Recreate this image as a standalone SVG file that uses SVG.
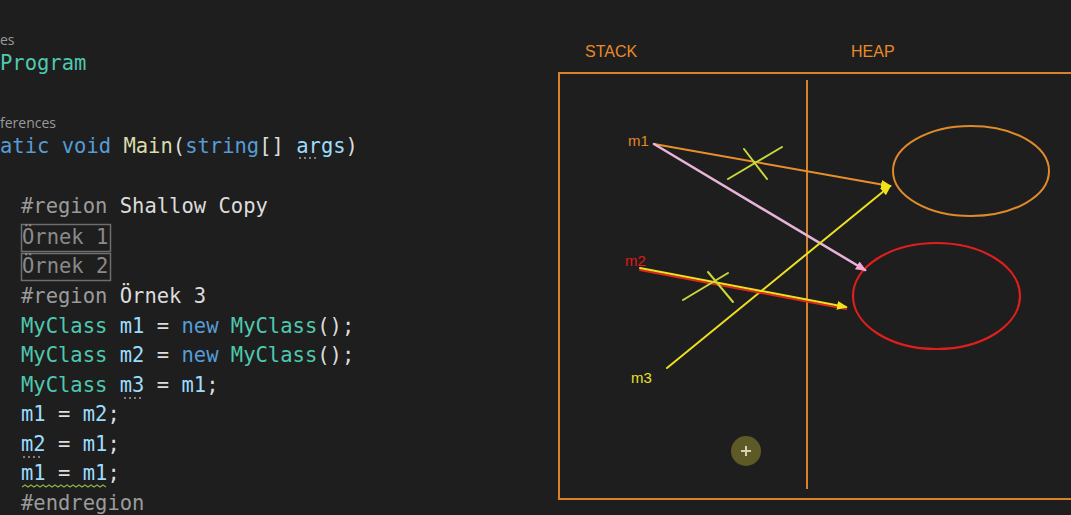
<svg xmlns="http://www.w3.org/2000/svg" width="1071" height="515" viewBox="0 0 1071 515">
<style>
.code{font-family:"DejaVu Sans Mono","Liberation Mono",monospace;font-size:20.5px}
.ui{font-family:"Open Sans","Liberation Sans",sans-serif;font-size:14px;fill:#9a9a9a}
.t{fill:#4ec9b0}.k{fill:#569cd6}.v{fill:#9cdcfe}.w{fill:#dcdcdc}.y{fill:#dcdcaa}.g{fill:#9b9b9b}.gb{fill:#8a8a8a}
.lbl{font-family:"Liberation Sans",Arial,sans-serif;font-size:16px;fill:#e8892b}
.var{font-family:"Liberation Sans",Arial,sans-serif;font-size:15px}
.frame{fill:none;stroke:#d9822b;stroke-width:2}
.dots{stroke:#a0a0a0;stroke-width:1.5;stroke-dasharray:2 3}
</style>
<defs>
<marker id="ahY" markerWidth="12" markerHeight="12" refX="9" refY="6" orient="auto" markerUnits="userSpaceOnUse"><path d="M0,1.5 L11,6 L0,10.5 Z" fill="#f2e21a"/></marker>
<marker id="ahP" markerWidth="12" markerHeight="12" refX="9" refY="6" orient="auto" markerUnits="userSpaceOnUse"><path d="M0,1.5 L11,6 L0,10.5 Z" fill="#f5a8d8"/></marker>
</defs>
<rect width="1071" height="515" fill="#1e1e1e"/>

<g id="code">
<text class="ui" x="0" y="45">es</text>
<text class="code t" x="0" y="70">Program</text>
<text class="ui" x="0" y="128">ferences</text>
<text class="code" x="0" y="153" xml:space="preserve"><tspan class="k">atic void </tspan><tspan class="y">Main</tspan><tspan class="w">(</tspan><tspan class="k">string</tspan><tspan class="w">[] </tspan><tspan class="v">args</tspan><tspan class="w">)</tspan></text>
<line class="dots" x1="299" y1="158" x2="316" y2="158"/>
<text class="code" x="21" y="213" xml:space="preserve"><tspan class="g">#region </tspan><tspan class="w">Shallow Copy</tspan></text>
<rect x="21.5" y="224.5" width="89" height="27" fill="none" stroke="#6e6e6e" stroke-width="1.5"/>
<text class="code gb" x="22" y="244">Örnek 1</text>
<rect x="21.5" y="253.5" width="89" height="27" fill="none" stroke="#6e6e6e" stroke-width="1.5"/>
<text class="code gb" x="22" y="273">Örnek 2</text>
<text class="code" x="21" y="303" xml:space="preserve"><tspan class="g">#region </tspan><tspan class="w">Örnek 3</tspan></text>
<text class="code" x="21" y="333" xml:space="preserve"><tspan class="t">MyClass </tspan><tspan class="v">m1</tspan><tspan class="w"> = </tspan><tspan class="k">new </tspan><tspan class="t">MyClass</tspan><tspan class="w">();</tspan></text>
<text class="code" x="21" y="362" xml:space="preserve"><tspan class="t">MyClass </tspan><tspan class="v">m2</tspan><tspan class="w"> = </tspan><tspan class="k">new </tspan><tspan class="t">MyClass</tspan><tspan class="w">();</tspan></text>
<text class="code" x="21" y="392" xml:space="preserve"><tspan class="t">MyClass </tspan><tspan class="v">m3</tspan><tspan class="w"> = </tspan><tspan class="v">m1</tspan><tspan class="w">;</tspan></text>
<line class="dots" x1="124" y1="398" x2="141" y2="398"/>
<text class="code" x="21" y="421" xml:space="preserve"><tspan class="v">m1</tspan><tspan class="w"> = </tspan><tspan class="v">m2</tspan><tspan class="w">;</tspan></text>
<text class="code" x="21" y="451" xml:space="preserve"><tspan class="v">m2</tspan><tspan class="w"> = </tspan><tspan class="v">m1</tspan><tspan class="w">;</tspan></text>
<line class="dots" x1="23" y1="457" x2="40" y2="457"/>
<text class="code" x="21" y="480" xml:space="preserve"><tspan class="v">m1</tspan><tspan class="w"> = </tspan><tspan class="v">m1</tspan><tspan class="w">;</tspan></text>
<path d="M22,487 l3,-2 l3,2 l3,-2 l3,2 l3,-2 l3,2 l3,-2 l3,2 l3,-2 l3,2 l3,-2 l3,2 l3,-2 l3,2 l3,-2 l3,2 l3,-2 l3,2 l3,-2 l3,2 l3,-2 l3,2 l3,-2 l3,2 l3,-2 l3,2 l3,-2 l3,2" fill="none" stroke="#8bb04a" stroke-width="1.2"/>
<text class="code g" x="21" y="510">#endregion</text>
</g>

<g id="memory">
<text class="lbl" x="585" y="57">STACK</text>
<text class="lbl" x="851" y="57">HEAP</text>
<rect class="frame" x="559" y="73" width="520" height="426"/>
<line class="frame" x1="807" y1="80" x2="807" y2="489"/>
</g>

<g id="obj1"><ellipse cx="971" cy="171" rx="78" ry="45" fill="none" stroke="#e08a2c" stroke-width="2"/></g>
<g id="obj2"><ellipse cx="936.5" cy="296" rx="83.5" ry="53" fill="none" stroke="#e01e1e" stroke-width="2.2"/></g>

<g id="m1"><text class="var" x="628" y="146" fill="#e08a2c">m1</text></g>
<g id="m2"><text class="var" x="625" y="266" fill="#e01818">m2</text></g>
<g id="m3"><text class="var" x="631" y="383" fill="#e8e030">m3</text></g>

<g id="connectors" fill="none" stroke-linecap="round">
<line x1="654" y1="144" x2="890" y2="186" stroke="#e8902a" stroke-width="2" marker-end="url(#ahY)"/>
<line x1="654" y1="144" x2="865" y2="270" stroke="#e8b4d8" stroke-width="2.5" marker-end="url(#ahP)"/>
<line x1="667" y1="368" x2="890" y2="186" stroke="#eee020" stroke-width="2" marker-end="url(#ahY)"/>
<line x1="640" y1="270" x2="846" y2="309" stroke="#e02818" stroke-width="2"/>
<line x1="640" y1="268" x2="846" y2="307" stroke="#f0e020" stroke-width="2" marker-end="url(#ahY)"/>
<g stroke="#c8d83a" stroke-width="2">
<line x1="728" y1="179" x2="782" y2="147"/>
<line x1="744" y1="149" x2="767" y2="179"/>
<line x1="683" y1="300" x2="728" y2="273"/>
<line x1="708" y1="272" x2="733" y2="302"/>
</g>
</g>

<g id="cursor">
<circle cx="746" cy="451" r="15" fill="#5e5a28"/>
<path d="M746,446 V456 M741,451 H751" stroke="#d8d0b0" stroke-width="2"/>
</g>
</svg>
